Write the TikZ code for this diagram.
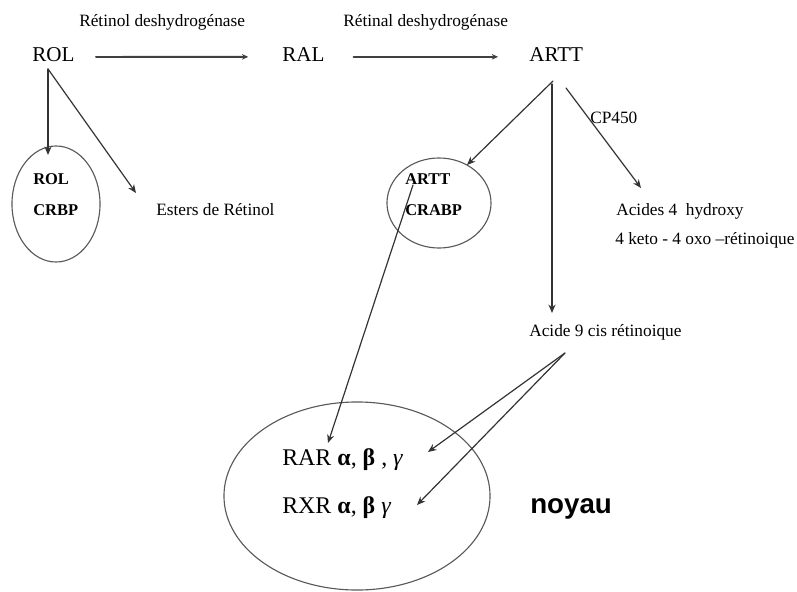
\documentclass[tikz,border=0pt]{standalone}
\usepackage{fontspec}
\setmainfont{Liberation Serif}
\newfontfamily\sansgras{Liberation Sans}
\usetikzlibrary{arrows.meta, shapes.geometric, positioning}

\begin{document}
\begin{tikzpicture}[x=0.025cm, y=-0.025cm, line cap=round,
    petit/.style={font=\fontsize{12.3}{14}\selectfont, inner sep=0pt, anchor=base west},
    grand/.style={font=\fontsize{15}{18}\selectfont, inner sep=0pt, anchor=base west},
    gras/.style={font=\fontsize{11.7}{14}\selectfont\bfseries, inner sep=0pt, anchor=base west},
    recep/.style={font=\fontsize{17}{20}\selectfont, inner sep=0pt, anchor=base west},
    fleche/.style={draw=black!80, line width=0.85pt, -{Stealth[length=6pt,width=5pt]}},
    enzyme/.style={draw=black!75, line width=1.3pt, -{Stealth[length=4.5pt,width=4pt]}},
    cercle/.style={draw=black!65, line width=0.8pt, ellipse, inner sep=0pt}]

    \useasboundingbox (0,0) rectangle (797,592);

    % voie principale
    \node[grand] (rol) at (32,61) {ROL};
    \node[grand] (ral) at (282,61) {RAL};
    \node[grand] (artt) at (529,61) {ARTT};
    \node[petit] (rdh) at (79,27) {Rétinol deshydrogénase};
    \node[petit] (raldh) at (343,27) {Rétinal deshydrogénase};

    \draw[enzyme, shorten <=15pt, shorten >=24pt] ([yshift=-2pt]rol.east) -- ([yshift=-2pt]ral.west);
    \draw[enzyme, shorten <=20.5pt, shorten >=22pt] ([yshift=-2pt]ral.east) -- ([yshift=-2pt]artt.west);

    % complexes proteiques
    \node[cercle, minimum width=2.2cm, minimum height=2.9cm] (crbp) at (56,204) {};
    \node[gras] (rol2) at (33,184) {ROL};
    \node[gras] (crbp2) at (33,215) {CRBP};
    \node[petit] (esters) at (156,215) {Esters de Rétinol};

    \node[cercle, minimum width=2.6cm, minimum height=2.25cm] (crabp) at (439,203) {};
    \node[gras] (artt2) at (405,184) {ARTT};
    \node[gras] (crabp2) at (405,215) {CRABP};

    \node[petit] (cp) at (590,123) {CP450};
    \node[petit] (hydroxy) at (616,215) {Acides 4~ hydroxy};
    \node[petit] (keto) at (615,244) {4 keto - 4 oxo --rétinoique};
    \node[petit] (cis) at (529,336) {Acide 9 cis rétinoique};

    % noyau
    \node[cercle, minimum width=6.65cm, minimum height=4.7cm] (nucleus) at (357,496) {};
    \node[recep] (rar) at (282,465) {RAR \textbf{α}, \textbf{β} , \textit{γ}};
    \node[recep] (rxr) at (282,513) {RXR \textbf{α}, \textbf{β} \textit{γ}};
    \node[font=\sansgras\bfseries\fontsize{19.7}{22}\selectfont, inner sep=0pt, anchor=base west] (noyau) at (530,513) {noyau};

    % extremites des fleches
    \coordinate (rol-pied) at (48,69);
    \coordinate (crbp-haut) at (48,155);
    \coordinate (esters-coin) at (136,193);
    \coordinate (artt-pied) at (553,81);
    \coordinate (artt-bas) at (552,84);
    \coordinate (artt-droit) at (566,88);
    \coordinate (crabp-bord) at (467,165);
    \coordinate (hydroxy-coin) at (641,188);
    \coordinate (cis-haut) at (552,313);
    \coordinate (crabp-int) at (413,185);
    \coordinate (rar-bout) at (328,443);
    \coordinate (cis-bas) at (565,353);
    \coordinate (rar-fin) at (428,452);
    \coordinate (rxr-fin) at (417,505);

    \draw[fleche] (rol-pied) -- (crbp-haut);
    \draw[fleche] (rol-pied) -- (esters-coin);
    \draw[fleche] (artt-pied) -- (crabp-bord);
    \draw[fleche] (artt-bas) -- (cis-haut);
    \draw[fleche] (artt-droit) -- (hydroxy-coin);
    \draw[fleche] (crabp-int) -- (rar-bout);
    \draw[fleche] (cis-bas) -- (rar-fin);
    \draw[fleche] (cis-bas) -- (rxr-fin);
\end{tikzpicture}
\end{document}
